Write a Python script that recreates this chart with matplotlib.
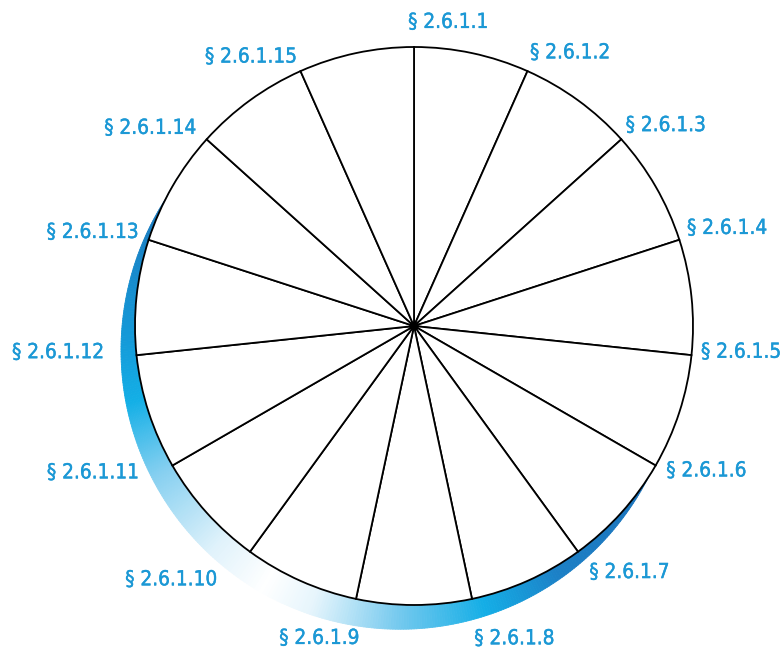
import numpy as np
import matplotlib
matplotlib.use("Agg")
import matplotlib.pyplot as plt
import matplotlib.patheffects as pe
from matplotlib import font_manager
from matplotlib.collections import PolyCollection

# ---------------- data ----------------
categories = ["§ 2.6.1.%d" % i for i in range(1, 16)]
values = [1] * 15  # 15 equal segments

# ---------------- layout / style ----------------
W, H = 782, 654
cx, cy = 414.0, 654 - 326.0
R = 279.0
shadow_shift = 28.0          # px
shadow_dir = 210.0           # degrees clockwise from top
label_color = "#1b98d5"
label_polar = [(6.4, 306), (29.7, 315), (51.4, 322), (72.6, 328), (94.5, 328),
               (116.3, 326), (138.8, 327), (162.2, 328), (196.9, 326), (223.8, 351),
               (245.5, 353), (265.8, 357), (286.3, 335), (306.9, 330), (328.8, 315)]
stop_ang = [118, 150, 166, 183, 200, 210, 222, 240, 255, 268, 302]
stop_col = ["#1b6fb8", "#1c80c6", "#14aee6", "#74c9ee", "#e6f5fc", "#ffffff",
            "#e0f2fb", "#86d0f0", "#13afe6", "#1499d8", "#1c72b8"]
target_label_width = 80.0    # px width of "§ 2.6.1.1"


def is_regular(f):
    return f.style == "normal" and f.weight in (400, "normal", "regular", "book")


# pick the narrowest available regular sans font
fl = font_manager.fontManager.ttflist
fontprops = dict(family="DejaVu Sans")
narrow = [f for f in fl if "Narrow" in f.name and "Liberation" in f.name and is_regular(f)]
cond = [f for f in fl if f.stretch in ("condensed", "semi-condensed", 500, 600, 700)
        and is_regular(f) and f.name in ("DejaVu Sans", "Roboto", "Noto Sans", "Open Sans")]
if narrow:
    fontprops = dict(fname=narrow[0].fname)
elif cond:
    fontprops = dict(fname=cond[0].fname)

fig = plt.figure(figsize=(W / 100, H / 100), dpi=100)
ax = fig.add_axes([0, 0, 1, 1])

# ---------------- shadow crescent ----------------
th_s = np.radians(shadow_dir)
d = np.array([shadow_shift * np.sin(th_s), shadow_shift * np.cos(th_s)])
angs = np.arange(118, 302.01, 0.5)
rgb = np.array([matplotlib.colors.to_rgb(c) for c in stop_col])
polys, cols = [], []
for a0, a1 in zip(angs[:-1], angs[1:]):
    pts_in, pts_out = [], []
    for a in (a0, a1):
        u = np.array([np.sin(np.radians(a)), np.cos(np.radians(a))])
        du = d @ u
        disc = du * du - d @ d + R * R
        r_out = max(du + np.sqrt(max(disc, 0)), R)
        pts_in.append((cx + (R - 1) * u[0], cy + (R - 1) * u[1]))
        pts_out.append((cx + r_out * u[0], cy + r_out * u[1]))
    polys.append([pts_in[0], pts_out[0], pts_out[1], pts_in[1]])
    am = 0.5 * (a0 + a1)
    cols.append([np.interp(am, stop_ang, rgb[:, k]) for k in range(3)])
ax.add_collection(PolyCollection(polys, facecolors=cols, edgecolors=cols,
                                 linewidths=0.6, zorder=1))

# ---------------- pie ----------------
ax.pie(values, startangle=90, counterclock=False, center=(cx, cy), radius=R,
       wedgeprops=dict(facecolor="white", edgecolor="black", linewidth=1.3, zorder=2))

ax.set_xlim(0, W)
ax.set_ylim(0, H)
ax.set_aspect("equal")
ax.set_axis_off()

# ---------------- labels ----------------
fp = font_manager.FontProperties(**fontprops)
texts = []
for lab, (a, r) in zip(categories, label_polar):
    ar = np.radians(a)
    texts.append(ax.text(cx + r * np.sin(ar), cy + r * np.cos(ar), lab, color=label_color,
                         fontproperties=fp, fontsize=14, ha="center", va="center", zorder=3,
                         path_effects=[pe.withStroke(linewidth=0.3, foreground=label_color)]))
fig.canvas.draw()
w = texts[0].get_window_extent().width
fs = min(14 * target_label_width / w, 17)
for t in texts:
    t.set_fontsize(fs)

fig.savefig("out.png", dpi=100, facecolor="white")
